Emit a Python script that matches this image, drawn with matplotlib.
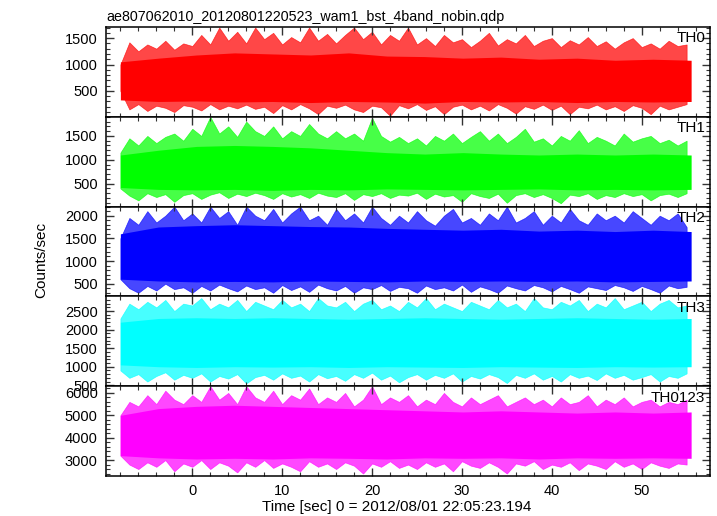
import numpy as np
import matplotlib
matplotlib.use("Agg")
import matplotlib.pyplot as plt
from matplotlib.ticker import MultipleLocator

plt.rcParams['font.family'] = ['Liberation Sans', 'DejaVu Sans']

title = "ae807062010_20120801220523_wam1_bst_4band_nobin.qdp"
names = ["TH0", "TH1", "TH2", "TH3", "TH0123"]
colors = ["#ff0000", "#00ff00", "#0000ff", "#00ffff", "#ff00ff"]

# time grid of the read-off envelopes (1 s bins, -8 .. 55 s)
t_outer = np.arange(-8, 56, 1.0)
# coarser grid for the dense core of each curve
t_core = np.linspace(-8, 55.5, 16)

# spike envelope (upper / lower), counts/sec
hi0 = [1000, 1420, 1250, 1380, 1300, 1450, 1280, 1400,
       1350, 1560, 1380, 1700, 1450, 1620, 1400, 1700,
       1480, 1600, 1380, 1520, 1420, 1700, 1450, 1580,
       1400, 1560, 1700, 1480, 1620, 1380, 1560, 1450,
       1700, 1380, 1500, 1350, 1560, 1420, 1480, 1330,
       1450, 1600, 1360, 1480, 1400, 1560, 1350, 1450,
       1500, 1330, 1460, 1380, 1520, 1350, 1440, 1300,
       1420, 1500, 1330, 1400, 1300, 1450, 1350, 1380]
lo0 = [500, 150, 250, 120, 220, 180, 100, 230,
       200, 130, 250, 150, 220, 170, 240, 160,
       200, 80, 230, 150, 250, 170, 60, 220,
       180, 240, 150, 100, 220, 190, 30, 230,
       170, 250, 140, 210, 60, 200, 240, 150,
       220, 130, 250, 180, 70, 210, 160, 240,
       140, 220, 60, 200, 170, 240, 150, 210,
       120, 230, 180, 60, 220, 150, 200, 250]

hi1 = [1150, 1450, 1300, 1500, 1350, 1480, 1550, 1400,
       1650, 1500, 1900, 1550, 1700, 1480, 1800, 1600,
       1500, 1700, 1450, 1600, 1500, 1750, 1550, 1450,
       1600, 1450, 1550, 1400, 1880, 1500, 1380, 1480,
       1350, 1450, 1300, 1500, 1400, 1550, 1350, 1480,
       1600, 1400, 1550, 1350, 1480, 1650, 1380, 1450,
       1300, 1500, 1400, 1620, 1350, 1480, 1400, 1300,
       1550, 1380, 1450, 1500, 1350, 1420, 1300, 1400]
lo1 = [400, 250, 150, 300, 220, 280, 120, 260,
       300, 180, 270, 320, 200, 290, 240, 310,
       260, 180, 300, 230, 280, 200, 310, 250,
       220, 300, 160, 280, 240, 300, 200, 270,
       250, 310, 180, 290, 230, 260, 120, 300,
       240, 200, 290, 100, 260, 300, 220, 280,
       200, 90, 270, 240, 300, 180, 260, 220,
       300, 240, 280, 150, 260, 290, 220, 300]

hi2 = [1500, 1950, 1800, 2100, 1850, 2000, 2200, 1900,
       2050, 1850, 2200, 1950, 2100, 1800, 2200, 2000,
       1900, 2150, 1850, 2050, 2200, 1900, 2000, 1800,
       2150, 1900, 2050, 1850, 2200, 1950, 1800, 2000,
       1850, 2100, 1900, 1780, 2000, 2150, 1850, 1950,
       1800, 2050, 1900, 2200, 1850, 1950, 2100, 1800,
       2000, 1850, 2150, 1900, 1800, 2050, 1900, 2000,
       1850, 2100, 1950, 1800, 2000, 1900, 2050, 1750]
lo2 = [600, 400, 300, 450, 350, 500, 380, 420,
       300, 450, 350, 480, 400, 330, 460, 380,
       420, 300, 470, 360, 440, 320, 480, 400,
       350, 450, 300, 420, 380, 470, 340, 430,
       400, 300, 460, 380, 420, 350, 480, 320,
       440, 380, 300, 460, 400, 350, 470, 420,
       330, 450, 380, 300, 440, 400, 360, 470,
       420, 340, 450, 380, 300, 460, 400, 430]

hi3 = [2300, 2700, 2550, 2750, 2600, 2800, 2500, 2700,
       2650, 2850, 2550, 2700, 2600, 2800, 2500, 2750,
       2650, 2550, 2800, 2600, 2700, 2500, 2850, 2650,
       2600, 2750, 2500, 2700, 2800, 2550, 2650, 2500,
       2750, 2600, 2850, 2550, 2700, 2600, 2500, 2750,
       2650, 2550, 2800, 2600, 2700, 2500, 2850, 2600,
       2550, 2750, 2650, 2800, 2500, 2700, 2600, 2850,
       2550, 2650, 2750, 2500, 2700, 2800, 2600, 2650]
lo3 = [900, 700, 800, 600, 750, 850, 650, 780,
       700, 820, 600, 750, 680, 800, 550, 720,
       780, 650, 820, 700, 760, 600, 800, 690,
       750, 620, 800, 700, 840, 650, 760, 580,
       720, 800, 650, 780, 700, 820, 600, 750,
       680, 800, 720, 560, 780, 700, 820, 650,
       750, 600, 800, 700, 760, 640, 820, 700,
       780, 650, 720, 800, 600, 750, 700, 820]

hi4 = [5000, 5600, 5400, 5900, 5500, 6100, 5700, 5500,
       5900, 5600, 6300, 5700, 6000, 5500, 6300, 5800,
       5600, 6100, 5500, 5900, 5700, 6200, 5500, 5800,
       5600, 6000, 5400, 5700, 6300, 5500, 5800, 5600,
       5900, 5400, 5700, 5500, 6000, 5600, 5400, 5800,
       5500, 5700, 5900, 5400, 5600, 5800, 5500, 5700,
       5400, 5800, 5500, 5600, 5900, 5400, 5700, 5500,
       5800, 5400, 5600, 5700, 5400, 5600, 5500, 5700]
lo4 = [3200, 2800, 2600, 2900, 2700, 3000, 2500, 2850,
       2700, 3000, 2600, 2900, 2750, 2450, 2900, 2700,
       3000, 2650, 2850, 2700, 2500, 2950, 2700, 2850,
       2600, 2900, 2750, 2400, 2850, 2700, 2950, 2650,
       2800, 2600, 2900, 2700, 2850, 2500, 2950, 2750,
       2650, 2900, 2700, 2400, 2850, 2750, 2950, 2600,
       2800, 2700, 2900, 2550, 2850, 2750, 2600, 2950,
       2700, 2850, 2600, 2900, 2750, 2650, 2850, 2800]

# dense core of each curve
core_hi0 = [1050, 1120, 1180, 1220, 1200, 1180, 1220, 1160, 1150, 1120, 1140, 1100, 1120, 1080, 1100, 1080]
core_lo0 = [330, 300, 310, 290, 300, 280, 300, 290, 270, 300, 290, 300, 280, 300, 290, 300]
core_hi1 = [1100, 1200, 1280, 1300, 1280, 1250, 1200, 1150, 1120, 1150, 1120, 1100, 1120, 1100, 1120, 1100]
core_lo1 = [420, 380, 370, 380, 360, 380, 370, 390, 380, 370, 380, 390, 370, 380, 370, 380]
core_hi2 = [1600, 1750, 1780, 1800, 1780, 1760, 1750, 1720, 1700, 1680, 1700, 1660, 1680, 1650, 1680, 1650]
core_lo2 = [600, 560, 540, 550, 540, 560, 550, 540, 560, 550, 560, 550, 560, 540, 550, 560]
core_hi3 = [2200, 2300, 2320, 2300, 2320, 2300, 2280, 2300, 2320, 2300, 2280, 2300, 2320, 2300, 2280, 2300]
core_lo3 = [1050, 1000, 980, 1000, 990, 1000, 980, 1000, 990, 980, 1000, 990, 980, 1000, 990, 1000]
core_hi4 = [5000, 5300, 5400, 5450, 5400, 5350, 5300, 5250, 5200, 5150, 5200, 5150, 5100, 5150, 5100, 5150]
core_lo4 = [3200, 3100, 3050, 3080, 3050, 3100, 3080, 3050, 3100, 3080, 3100, 3050, 3100, 3080, 3100, 3080]

his = [hi0, hi1, hi2, hi3, hi4]
los = [lo0, lo1, lo2, lo3, lo4]
core_his = [core_hi0, core_hi1, core_hi2, core_hi3, core_hi4]
core_los = [core_lo0, core_lo1, core_lo2, core_lo3, core_lo4]

ylims = [(10, 1710), (20, 1900), (220, 2200), (475, 2895), (2290, 6300)]
majors = [500, 500, 500, 500, 1000]
minors = [100, 100, 100, 100, 200]

fig = plt.figure(figsize=(7.17, 5.16), dpi=100)
left, right = 106 / 717, 710 / 717
top, bottom = 1 - 27 / 516, 1 - 476 / 516
h = (top - bottom) / 5

axes = []
for i in range(5):
    ax = fig.add_axes([left, top - (i + 1) * h, right - left, h])
    axes.append(ax)
    c = colors[i]
    ax.fill_between(t_outer, los[i], his[i], color=c, alpha=0.72, lw=0.5)
    ax.fill_between(t_core, core_los[i], core_his[i], color=c, lw=0)
    ax.set_xlim(-9.6, 57.6)
    ax.set_ylim(*ylims[i])
    ax.yaxis.set_major_locator(MultipleLocator(majors[i]))
    ax.yaxis.set_minor_locator(MultipleLocator(minors[i]))
    ax.xaxis.set_major_locator(MultipleLocator(10))
    ax.xaxis.set_minor_locator(MultipleLocator(2))
    ax.tick_params(which='both', direction='in', top=True, right=True,
                   labelsize=10.5, color='#333333', pad=6)
    ax.tick_params(which='major', length=6, width=1)
    ax.tick_params(which='minor', length=3, width=0.8)
    for s in ax.spines.values():
        s.set_linewidth(1.1)
    if i < 4:
        ax.tick_params(labelbottom=False)
    ax.text(0.992, 0.95, names[i], transform=ax.transAxes, ha='right', va='top', fontsize=11)

axes[0].set_title(title, loc='left', fontsize=10.3, pad=4)
fig.text(0.058, 1 - 260 / 516, "Counts/sec", rotation=90, ha='center', va='center', fontsize=11)
fig.text(397 / 717, 1 - 507 / 516, "Time [sec] 0 = 2012/08/01 22:05:23.194", ha='center', va='center', fontsize=11)

fig.savefig("out.png", dpi=100)
